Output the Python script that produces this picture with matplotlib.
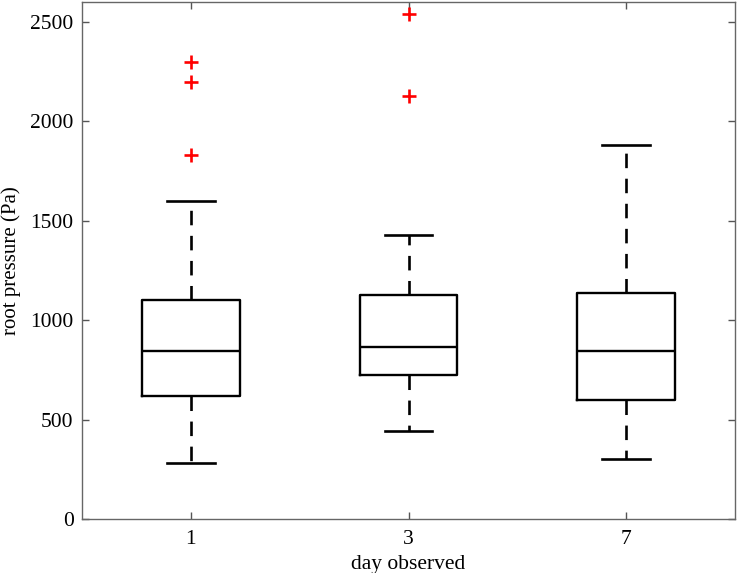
import matplotlib.pyplot as plt

plt.rcParams['font.family'] = ['Liberation Serif', 'DejaVu Serif']

days = ['1', '3', '7']
q1 = [617, 722, 597]
medians = [845, 863, 843]
q3 = [1099, 1125, 1137]
whisker_low = [284, 441, 300]
whisker_high = [1600, 1428, 1882]
outliers = [[2300, 2200, 1830], [2540, 2125], []]

stats = []
for i in range(len(days)):
    stats.append({'q1': q1[i], 'med': medians[i], 'q3': q3[i],
                  'whislo': whisker_low[i], 'whishi': whisker_high[i],
                  'fliers': outliers[i], 'label': days[i]})

fig = plt.figure(figsize=(7.37, 5.73), dpi=100)
ax = fig.add_axes([82 / 737, 54 / 573, 653 / 737, 517 / 573])

ax.bxp(stats, widths=0.45,
       boxprops=dict(color='black', linewidth=1.7),
       medianprops=dict(color='black', linewidth=1.7),
       whiskerprops=dict(color='black', linewidth=1.9, linestyle=(0, (5.5, 4))),
       capprops=dict(color='black', linewidth=1.9),
       flierprops=dict(marker='+', markeredgecolor='red', markersize=10,
                       markeredgewidth=1.9, linestyle='none'),
       capwidths=0.22)

ax.set_xlim(0.5, 3.5)
ax.set_ylim(0, 2600)
ax.set_yticks([0, 500, 1000, 1500, 2000, 2500])
ax.tick_params(direction='in', top=True, right=True, labelsize=15.5,
               color='#555555', length=5, width=1)
ax.tick_params(axis='x', pad=8)
ax.tick_params(axis='y', pad=6)
for s in ax.spines.values():
    s.set_color('#666666')
    s.set_linewidth(1)

ax.set_xlabel('day observed', fontsize=15.5, labelpad=4)
ax.set_ylabel('root pressure (Pa)', fontsize=15)
ax.yaxis.set_label_coords(-0.093, 0.5)

fig.savefig('out.png', dpi=100)
